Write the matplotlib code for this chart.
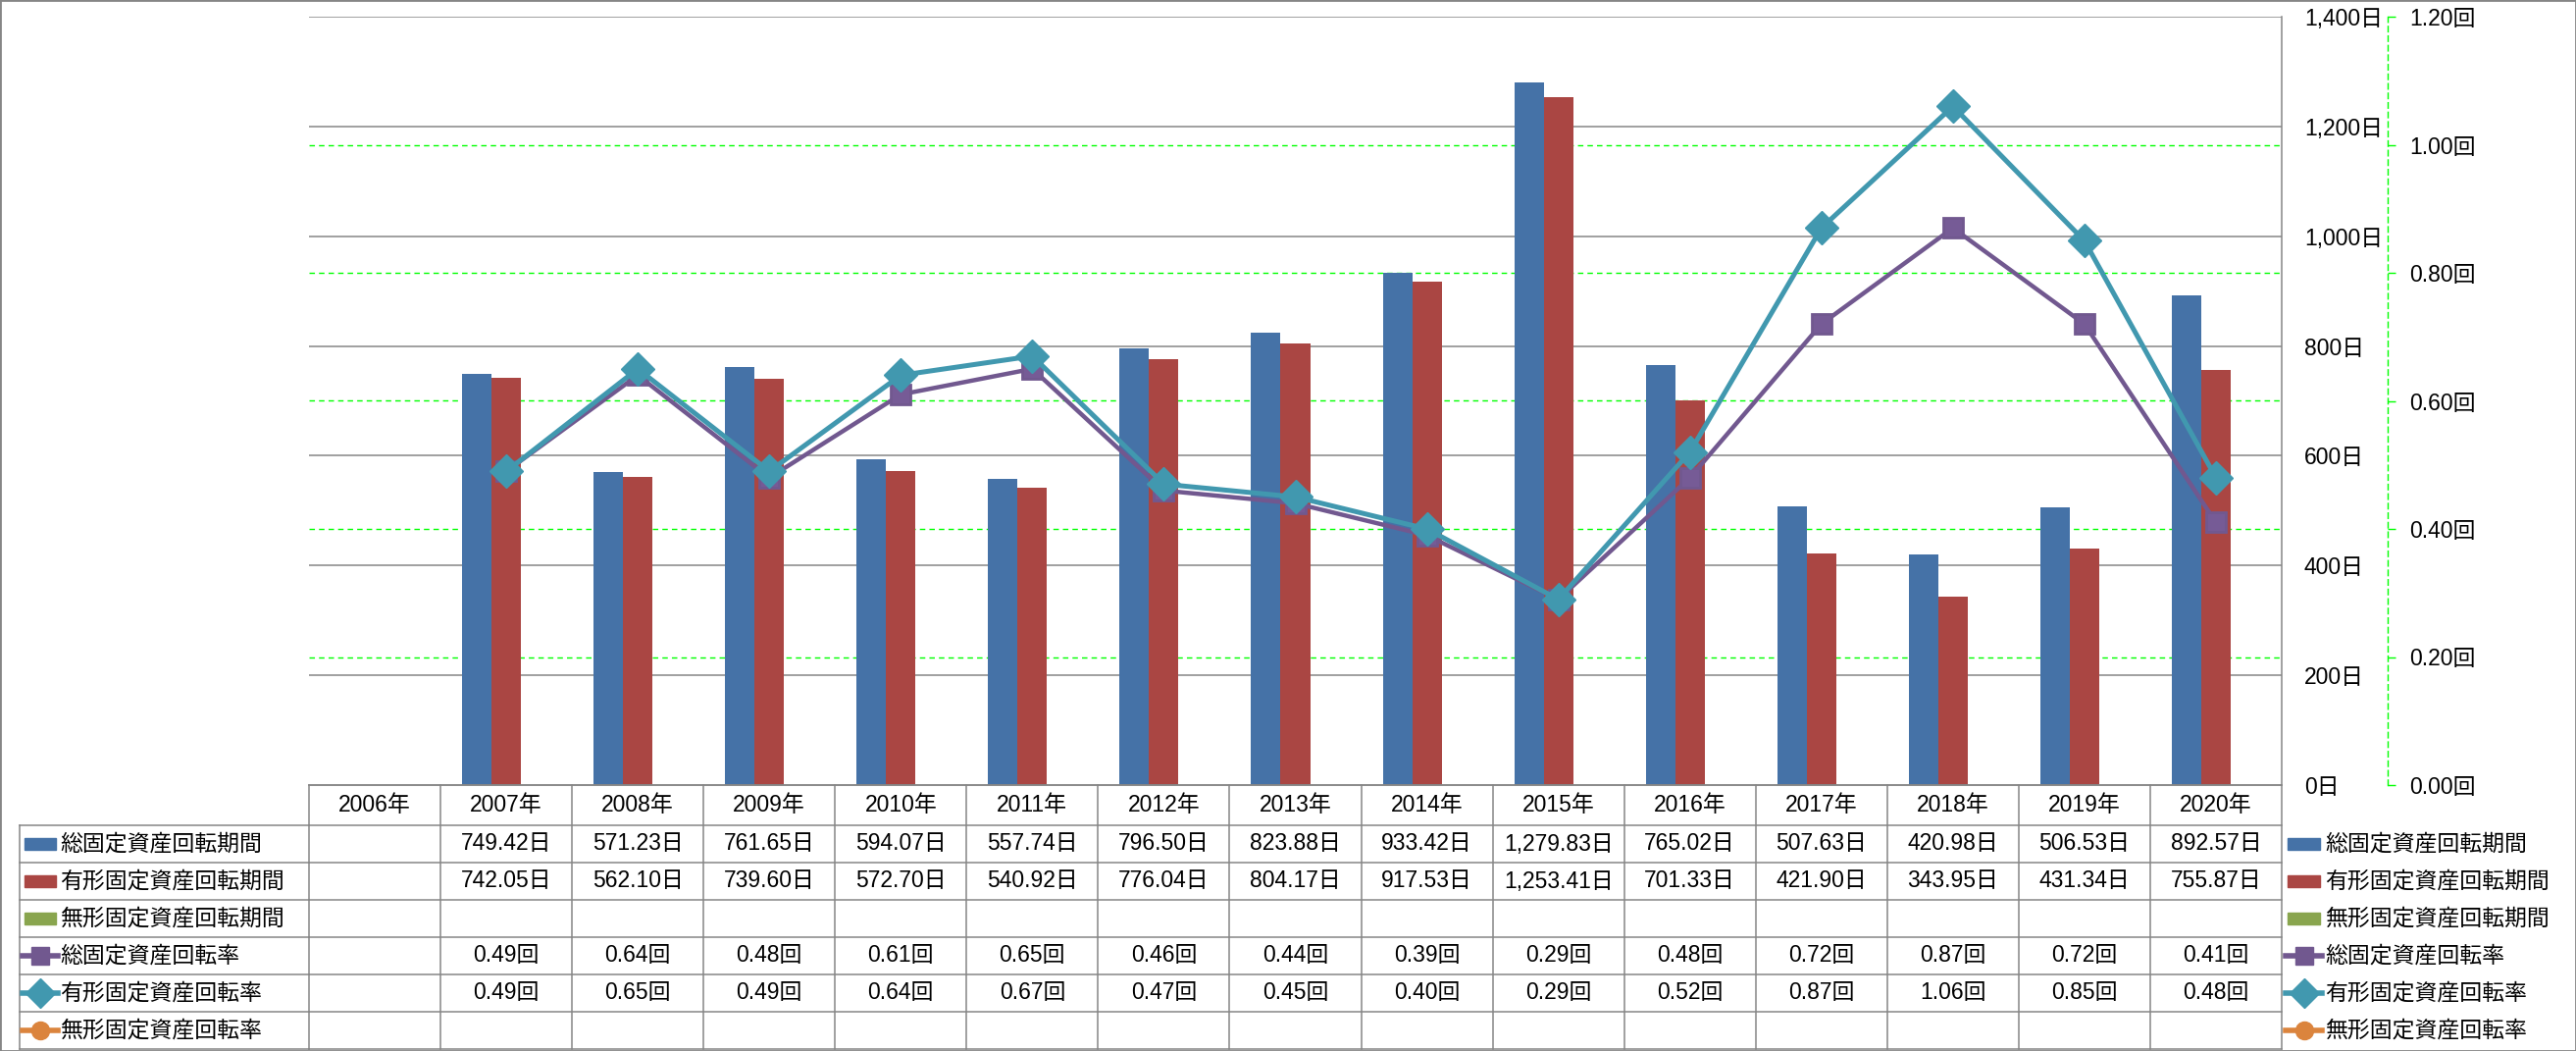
import matplotlib.pyplot as plt
import matplotlib.lines as mlines
import matplotlib.patches as mpatches
from matplotlib.transforms import blended_transform_factory
import numpy as np

plt.rcParams['font.family'] = ['Liberation Sans', 'Noto Sans CJK JP']
plt.rcParams['font.size'] = 16.5

nan = np.nan
years = ['2006年', '2007年', '2008年', '2009年', '2010年', '2011年', '2012年', '2013年',
         '2014年', '2015年', '2016年', '2017年', '2018年', '2019年', '2020年']
total_days = [nan, 749.42, 571.23, 761.65, 594.07, 557.74, 796.50, 823.88,
              933.42, 1279.83, 765.02, 507.63, 420.98, 506.53, 892.57]
tangible_days = [nan, 742.05, 562.10, 739.60, 572.70, 540.92, 776.04, 804.17,
                 917.53, 1253.41, 701.33, 421.90, 343.95, 431.34, 755.87]
intangible_days = [nan] * 15
total_rate = [nan, 0.49, 0.64, 0.48, 0.61, 0.65, 0.46, 0.44, 0.39, 0.29, 0.48, 0.72, 0.87, 0.72, 0.41]
tangible_rate = [nan, 0.49, 0.65, 0.49, 0.64, 0.67, 0.47, 0.45, 0.40, 0.29, 0.52, 0.87, 1.06, 0.85, 0.48]
intangible_rate = [nan] * 15

series_names = ['総固定資産回転期間', '有形固定資産回転期間', '無形固定資産回転期間',
                '総固定資産回転率', '有形固定資産回転率', '無形固定資産回転率']
colors = ['#4572A7', '#AA4643', '#89A54E', '#71588F', '#4198AF', '#DB843D']
GRID = '#868686'

W, H = 2626, 1071
fig = plt.figure(figsize=(W / 100, H / 100), dpi=100)


def fx(px):
    return px / W


def fy(py):
    return 1 - py / H


ax = fig.add_axes([fx(315), fy(800), fx(2326) - fx(315), fy(17) - fy(800)])
ax2 = ax.twinx()

x = np.arange(len(years))
w = 0.224
ax.set_xlim(-0.5, len(years) - 0.5)
ax.set_ylim(0, 1400)
ax2.set_ylim(0, 1.2)

# gridlines (behind bars): gray for days, green dashed for rate
for v in np.arange(200, 1401, 200):
    ax.axhline(v, color=GRID, lw=1.1, zorder=0)
for r in np.arange(0.2, 1.01, 0.2):
    ax.axhline(r * 1400 / 1.2, color='#00FF00', lw=1.0, ls=(0, (4, 3)), zorder=0)

ax.bar(x - w, total_days, w, color=colors[0], zorder=2)
ax.bar(x, tangible_days, w, color=colors[1], zorder=2)
ax.bar(x + w, intangible_days, w, color=colors[2], zorder=2)

ax2.plot(x, total_rate, color=colors[3], lw=3.2, marker='s', ms=15,
         mfc='#765B96', mec=colors[3], mew=2)
ax2.plot(x, tangible_rate, color=colors[4], lw=3.6, marker='D', ms=17,
         mfc=colors[4], mec=colors[4])
ax2.plot(x, intangible_rate, color=colors[5], lw=3.6, marker='o', ms=15)

# primary axis on right
ax.set_xticks([])
ax.yaxis.tick_right()
ax.set_yticks(np.arange(0, 1401, 200))
ax.set_yticklabels([f'{v:,.0f}日' for v in np.arange(0, 1401, 200)])
ax.tick_params(axis='y', length=0, pad=16.5)
for s in ['left', 'top']:
    ax.spines[s].set_visible(False)
for s in ['right', 'bottom']:
    ax.spines[s].set_color(GRID)
    ax.spines[s].set_linewidth(1.1)

# secondary axis, offset to the right with green dashed line
ax2.spines['right'].set_position(('axes', (2434 - 315) / (2326 - 315)))
ax2.spines['right'].set_color('#00FF00')
ax2.spines['right'].set_linestyle((0, (4, 3)))
ax2.spines['right'].set_linewidth(1.0)
for s in ['left', 'top', 'bottom']:
    ax2.spines[s].set_visible(False)
ax2.set_yticks(np.arange(0, 1.21, 0.2))
ax2.set_yticklabels([f'{v:.2f}回' for v in np.arange(0, 1.21, 0.2)])
ax2.tick_params(axis='y', length=6, color='#00FF00', width=1, pad=10)

# data table under the plot
tb = blended_transform_factory(ax.transData, fig.transFigure)
tf = fig.transFigure
table_top, header_h, row_h = 800, 41, 38
row_tops = [table_top + header_h + i * row_h for i in range(7)]
lbl_left = 20


def hline(y, x0, x1, trans):
    fig.add_artist(mlines.Line2D([x0, x1], [fy(y), fy(y)], transform=trans,
                                 color=GRID, lw=1.1))


hline(table_top, -0.5, len(years) - 0.5, tb)
for y in row_tops:
    fig.add_artist(mlines.Line2D([fx(lbl_left), fx(315)], [fy(y), fy(y)], transform=tf,
                                 color=GRID, lw=1.1))
    hline(y, -0.5, len(years) - 0.5, tb)
fig.add_artist(mlines.Line2D([fx(lbl_left), fx(lbl_left)], [fy(row_tops[0]), fy(row_tops[-1])],
                             transform=tf, color=GRID, lw=1.1))
for i in range(len(years) + 1):
    fig.add_artist(mlines.Line2D([i - 0.5, i - 0.5], [fy(table_top), fy(row_tops[-1])],
                                 transform=tb, color=GRID, lw=1.1))

for i, yr in enumerate(years):
    fig.text(i, fy(table_top + header_h / 2), yr, transform=tb, ha='center', va='center')

rows = [(total_days, '{:,.2f}日'), (tangible_days, '{:,.2f}日'), (intangible_days, '{:,.2f}日'),
        (total_rate, '{:.2f}回'), (tangible_rate, '{:.2f}回'), (intangible_rate, '{:.2f}回')]
markers = [None, None, None, ('s', 13), ('D', 15), ('o', 13)]

for k, (vals, fmt) in enumerate(rows):
    yc = fy(row_tops[k] + row_h / 2)
    for i, v in enumerate(vals):
        if not np.isnan(v):
            fig.text(i, yc, fmt.format(v), transform=tb, ha='center', va='center')
    # key swatches: row labels (left) and legend (right)
    for sx0, sx1, tx in [(25, 57, 61), (2332, 2365, 2370)]:
        if markers[k] is None:
            fig.add_artist(mpatches.Rectangle((fx(sx0), yc - 6 / H), fx(sx1) - fx(sx0), 12 / H,
                                              transform=tf, color=colors[k]))
        else:
            m, ms = markers[k]
            fig.add_artist(mlines.Line2D([fx(sx0 - 2), fx(sx1 + 2)], [yc, yc], transform=tf,
                                         color=colors[k], lw=4))
            fig.add_artist(mlines.Line2D([fx((sx0 + sx1) / 2)], [yc], transform=tf,
                                         marker=m, ms=ms, color=colors[k], lw=0))
        fig.text(fx(tx), yc, series_names[k], transform=tf, ha='left', va='center')

# outer chart border
fig.add_artist(mpatches.Rectangle((0, 0), 1, 1, transform=tf, fill=False,
                                  edgecolor=GRID, lw=2))

fig.savefig('out.png', dpi=100)
